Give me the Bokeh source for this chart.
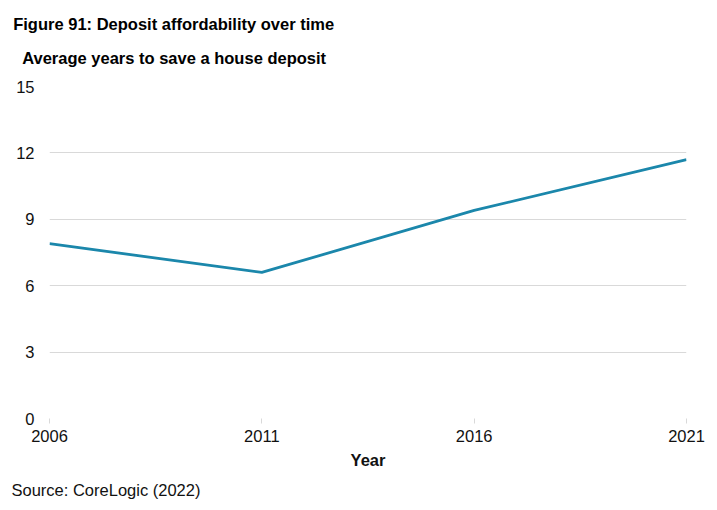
from bokeh.plotting import figure
from bokeh.models import Title, FixedTicker, Range1d
from bokeh.embed import file_html
from bokeh.resources import INLINE

years = [2006, 2011, 2016, 2021]
avg_years_to_save = [7.9, 6.6, 9.4, 11.7]
y_ticks = [0, 3, 6, 9, 12, 15]

title_text = "Figure 91: Deposit affordability over time"
subtitle_text = "Average years to save a house deposit"
source_text = "Source: CoreLogic (2022)"
x_label = "Year"

FONT = "Liberation Sans"
LINE_COLOR = "#1b87ab"
GRID_COLOR = "#d9d9d9"

p = figure(width=710, height=505, output_backend="svg", toolbar_location=None,
           x_range=Range1d(2006, 2021), y_range=Range1d(0, 15),
           min_border_left=49, min_border_right=24, min_border_top=86, min_border_bottom=86)
p.outline_line_color = None
p.background_fill_color = "white"
p.border_fill_color = "white"

p.line(years, avg_years_to_save, line_color=LINE_COLOR, line_width=2.8)

# y axis
p.yaxis.ticker = FixedTicker(ticks=y_ticks)
p.yaxis.axis_line_color = None
p.yaxis.major_tick_line_color = None
p.yaxis.major_tick_in = 0
p.yaxis.major_tick_out = 0
p.yaxis.minor_tick_line_color = None
p.yaxis.major_label_standoff = 15
p.yaxis.major_label_text_font = FONT
p.yaxis.major_label_text_font_size = "16.5px"
p.yaxis.major_label_text_color = "#111111"

# x axis
p.xaxis.ticker = FixedTicker(ticks=years)
p.xaxis.axis_line_color = None
p.xaxis.major_tick_line_color = GRID_COLOR
p.xaxis.major_tick_in = 0
p.xaxis.major_tick_out = 5
p.xaxis.minor_tick_line_color = None
p.xaxis.major_label_standoff = 6
p.xaxis.major_label_text_font = FONT
p.xaxis.major_label_text_font_size = "16.5px"
p.xaxis.major_label_text_color = "#111111"
p.xaxis.axis_label = x_label
p.xaxis.axis_label_text_font = FONT
p.xaxis.axis_label_text_font_size = "16.5px"
p.xaxis.axis_label_text_font_style = "bold"
p.xaxis.axis_label_text_color = "#111111"
p.xaxis.axis_label_standoff = 6

p.xgrid.grid_line_color = None
p.ygrid.grid_line_color = GRID_COLOR
p.ygrid.grid_line_width = 1

p.add_layout(Title(text=subtitle_text, align="left", offset=-27.3, standoff=40,
                   text_font=FONT, text_font_size="16.5px", text_font_style="bold",
                   text_color="#000000"), "above")
p.add_layout(Title(text=title_text, align="left", offset=-36.3, standoff=-12,
                   text_font=FONT, text_font_size="16.5px", text_font_style="bold",
                   text_color="#000000"), "above")
p.add_layout(Title(text=source_text, align="left", offset=-38, standoff=14,
                   text_font=FONT, text_font_size="16.5px", text_font_style="normal",
                   text_color="#111111"), "below")

open("out.html", "w").write(file_html(p, INLINE))
